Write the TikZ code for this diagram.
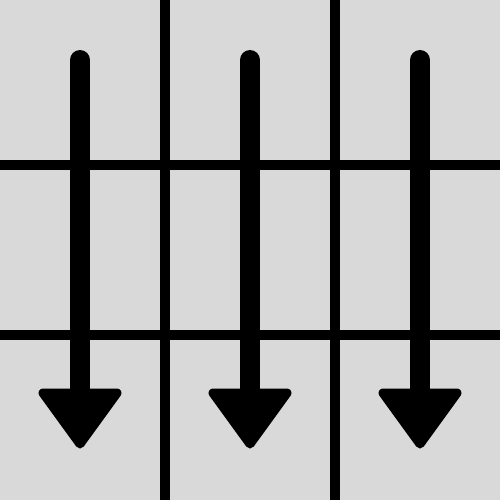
\documentclass[tikz,border=0pt]{standalone}
\definecolor{bggray}{RGB}{217,217,217}
\tikzset{
  gridline/.style={line width=10pt, black},
  shaft/.style={line width=20pt, line cap=round, black},
  headtri/.style={fill=black, draw=black, line width=9pt, line join=round}
}
\begin{document}
\begin{tikzpicture}[x=1pt,y=-1pt]
  \fill[bggray] (0,0) rectangle (500,500);
  \useasboundingbox (0,0) rectangle (500,500);
  \draw[gridline] (165,0) -- (165,500);
  \draw[gridline] (335,0) -- (335,500);
  \draw[gridline] (0,165) -- (500,165);
  \draw[gridline] (0,335) -- (500,335);
  \foreach \x/\n in {80/a,250/b,420/c} {
    \coordinate (top\n) at (\x,60);
    \coordinate (bot\n) at (\x,400);
    \draw[shaft] (top\n) -- (bot\n);
    \draw[headtri] (\x-37,393) -- (\x+37,393) -- (\x,444) -- cycle;
  }
\end{tikzpicture}
\end{document}
